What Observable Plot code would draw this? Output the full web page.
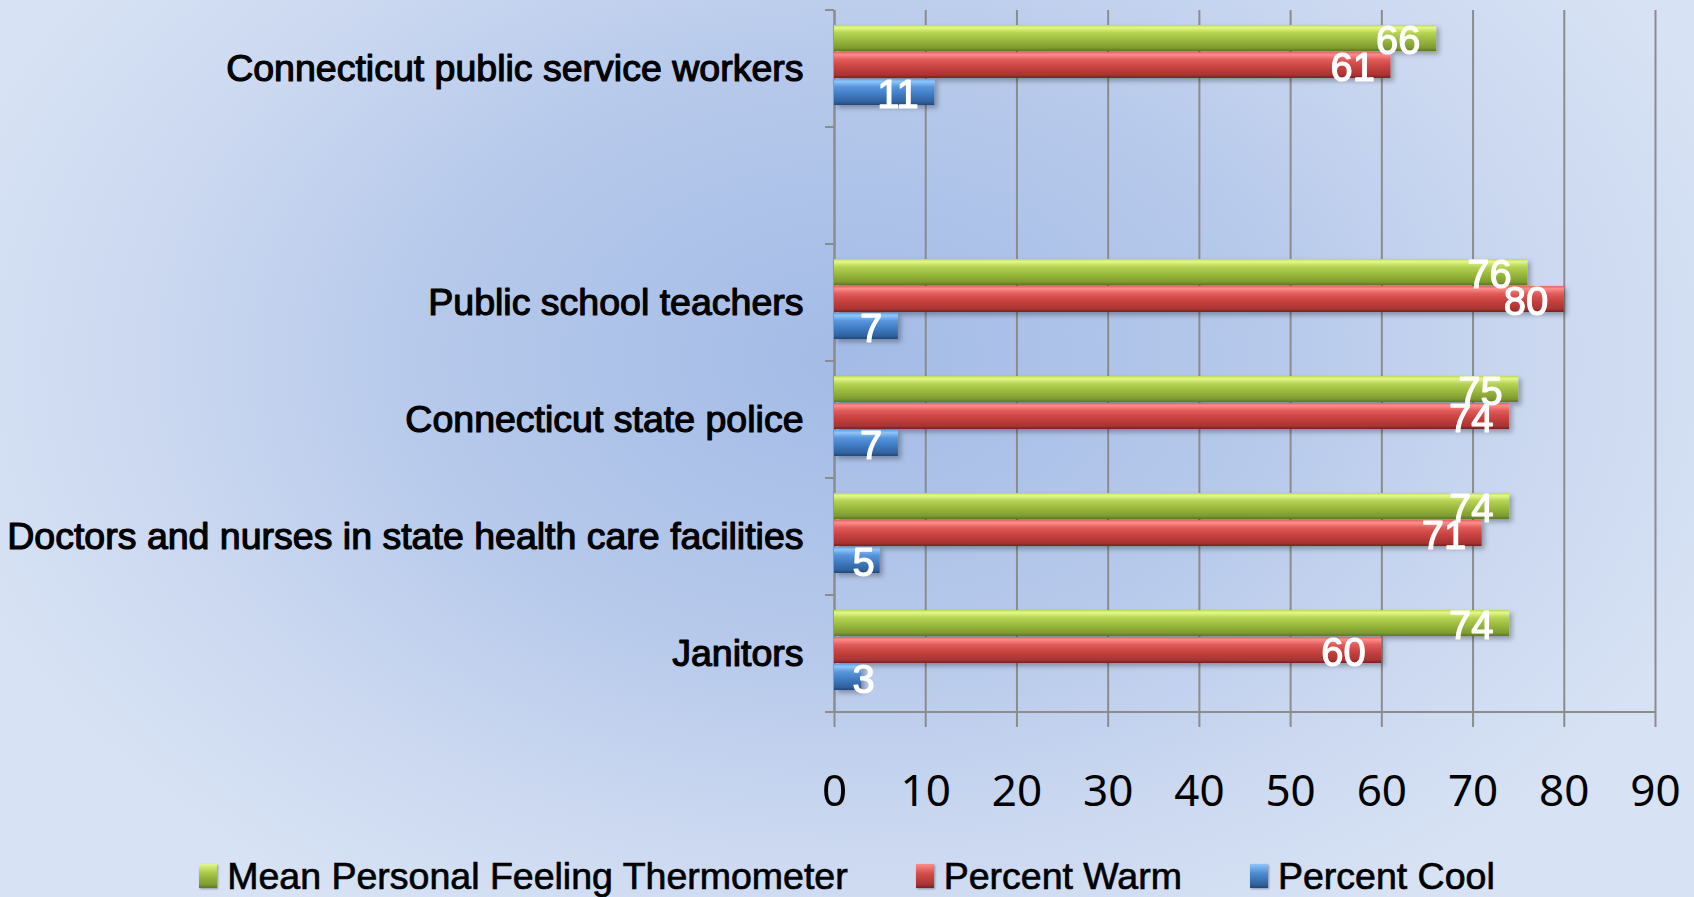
<!DOCTYPE html>
<html>
<head>
<meta charset="utf-8">
<script src="https://cdn.jsdelivr.net/npm/d3@7"></script>
<script src="https://cdn.jsdelivr.net/npm/@observablehq/plot@0.6"></script>
<style>
  html, body { margin: 0; padding: 0; width: 1694px; height: 897px; overflow: hidden; }
  body {
    position: relative;
    background: radial-gradient(ellipse 55% 72% at 50% 40%, #a3bbe6 0%, #b6c9eb 45%, #cbd8f0 75%, #d7e2f4 100%);
    font-family: "Liberation Sans", Arial, sans-serif;
  }
  #chart { position: absolute; left: 0; top: 0; }
  #legend {
    position: absolute; left: 0; top: 855px; width: 1694px;
    display: flex; justify-content: center; gap: 68px;
    font-size: 37.5px; line-height: 42px; color: #000;
    -webkit-text-stroke: 0.7px #000;
  }
  .item { display: flex; align-items: flex-start; white-space: nowrap; }
  .sw { width: 18px; height: 24px; margin-top: 9px; margin-right: 10px; box-shadow: 1px 1px 2px rgba(0,0,0,0.35); }
</style>
</head>
<body>
<svg width="0" height="0" style="position:absolute">
  <defs>
    <linearGradient id="gGreen" x1="0" y1="0" x2="0" y2="1">
      <stop offset="0" stop-color="#bcd852"/>
      <stop offset="0.1" stop-color="#e3f88c"/>
      <stop offset="0.3" stop-color="#b6d354"/>
      <stop offset="0.6" stop-color="#98b83c"/>
      <stop offset="0.88" stop-color="#7e9b30"/>
      <stop offset="1" stop-color="#5d7620"/>
    </linearGradient>
    <linearGradient id="gRed" x1="0" y1="0" x2="0" y2="1">
      <stop offset="0" stop-color="#e06464"/>
      <stop offset="0.1" stop-color="#ff8c8a"/>
      <stop offset="0.3" stop-color="#e05a58"/>
      <stop offset="0.6" stop-color="#c6403e"/>
      <stop offset="0.88" stop-color="#a83432"/>
      <stop offset="1" stop-color="#782020"/>
    </linearGradient>
    <linearGradient id="gBlue" x1="0" y1="0" x2="0" y2="1">
      <stop offset="0" stop-color="#64a2e6"/>
      <stop offset="0.1" stop-color="#8ec6fa"/>
      <stop offset="0.3" stop-color="#5896dc"/>
      <stop offset="0.6" stop-color="#3e7bc2"/>
      <stop offset="0.88" stop-color="#30629e"/>
      <stop offset="1" stop-color="#22467a"/>
    </linearGradient>
    <filter id="shadow" x="-5%" y="-30%" width="110%" height="170%">
      <feDropShadow dx="3" dy="3" stdDeviation="2.5" flood-color="#000" flood-opacity="0.3"/>
    </filter>
  </defs>
</svg>
<div id="chart"></div>
<div id="legend"></div>
<script>
// ---- data ----
const categories = [
  "Connecticut public service workers",
  " ",
  "Public school teachers",
  "Connecticut state police",
  "Doctors and nurses in state health care facilities",
  "Janitors"
];
const series = ["Mean Personal Feeling Thermometer", "Percent Warm", "Percent Cool"];
const thermometer = [66, null, 76, 75, 74, 74];
const warm        = [61, null, 80, 74, 71, 60];
const cool        = [11, null, 7, 7, 5, 3];
const xTicks = [0, 10, 20, 30, 40, 50, 60, 70, 80, 90];

// ---- styles ----
const seriesFills = ["url(#gGreen)", "url(#gRed)", "url(#gBlue)"];
const swatchCss = [
  "linear-gradient(#e3f88c, #a6c648 40%, #7e9b30 85%, #5d7620)",
  "linear-gradient(#ff8c8a, #d24c4a 40%, #a83432 85%, #782020)",
  "linear-gradient(#8ec6fa, #4c8ad0 40%, #30629e 85%, #22467a)"
];

const table = categories.flatMap((c, i) =>
  [thermometer, warm, cool].map((arr, j) => ({category: c, series: series[j], value: arr[i]}))
);

const W = 1694, H = 830, mL = 834, mR = 39, mT = 8, mB = 116;
const GRID = "#8c8c8c";
const LABEL_FONT = 40, PAD_END = 16, PAD_START = 18;
const pxPerUnit = (W - mL - mR) / (xTicks[xTicks.length - 1] - xTicks[0]);
const fits = d => d.value * pxPerUnit - PAD_END - String(d.value).length * 0.556 * LABEL_FONT >= PAD_START;
const labelled = table.filter(d => d.value != null);

const chart = Plot.plot({
  width: W, height: H,
  marginLeft: mL, marginRight: mR, marginTop: mT, marginBottom: mB,
  style: {background: "transparent", fontFamily: "'Liberation Sans', Arial, sans-serif", overflow: "visible", color: "black"},
  x: {domain: [xTicks[0], xTicks[xTicks.length - 1]]},
  y: {domain: series, axis: null, paddingInner: 0.02, paddingOuter: 0.66, align: 0.4},
  fy: {domain: categories, paddingInner: 0, paddingOuter: 0},
  color: {domain: series, range: seriesFills},
  marks: [
    Plot.gridX(xTicks, {stroke: GRID, strokeOpacity: 1, strokeWidth: 2}),
    Plot.ruleX([0], {stroke: GRID, strokeWidth: 2}),
    Plot.barX(table, {fy: "category", y: "series", x: "value", fill: "series"}),
    Plot.text(labelled.filter(fits), {
      fy: "category", y: "series", x: "value", text: d => String(d.value),
      textAnchor: "end", dx: -PAD_END, dy: 3, fill: "white", fontSize: LABEL_FONT,
      stroke: "white", strokeWidth: 1.2
    }),
    Plot.text(labelled.filter(d => !fits(d)), {
      fy: "category", y: "series", x: () => 0, text: d => String(d.value),
      textAnchor: "start", dx: PAD_START, dy: 3, fill: "white", fontSize: LABEL_FONT,
      stroke: "white", strokeWidth: 1.2
    }),
    Plot.axisFy({anchor: "left", label: null, tickSize: 0, tickPadding: 31, fontSize: 37.5, fill: "black",
      textStroke: "black", textStrokeWidth: 1.2, textStrokeOpacity: 1,
      tickFormat: d => d.trim() === "" ? "" : d}),
    Plot.axisX(xTicks, {anchor: "bottom", label: null, tickSize: 15, tickPadding: 47, fontSize: 44,
      fontFamily: "'Noto Sans', sans-serif", stroke: GRID, strokeWidth: 2, fill: "black"})
  ]
});

// y-axis band boundary ticks and the x-axis baseline, positioned from Plot's own scales
(function decorate() {
  const fyS = chart.scale("fy"), xS = chart.scale("x");
  const x0 = xS.apply(xTicks[0]), x1 = xS.apply(xTicks[xTicks.length - 1]);
  const edges = categories.map(c => fyS.apply(c));
  edges.push(fyS.apply(categories[categories.length - 1]) + fyS.bandwidth);
  const g = d3.select(chart).append("g").attr("stroke", GRID).attr("stroke-width", 2);
  g.selectAll("line.edge").data(edges).join("line")
    .attr("x1", x0 - 9).attr("x2", x0).attr("y1", d => d).attr("y2", d => d);
  g.append("line").attr("x1", x0 - 9).attr("x2", x1)
    .attr("y1", edges[edges.length - 1]).attr("y2", edges[edges.length - 1]);
  d3.select(chart).selectAll('g[aria-label="bar"]').attr("filter", "url(#shadow)");
})();

document.getElementById("chart").appendChild(chart);

// legend
const legend = document.getElementById("legend");
series.forEach((s, i) => {
  const item = document.createElement("div");
  item.className = "item";
  const sw = document.createElement("span");
  sw.className = "sw";
  sw.style.background = swatchCss[i];
  const t = document.createElement("span");
  t.textContent = s;
  item.appendChild(sw); item.appendChild(t);
  legend.appendChild(item);
});
</script>
</body>
</html>
